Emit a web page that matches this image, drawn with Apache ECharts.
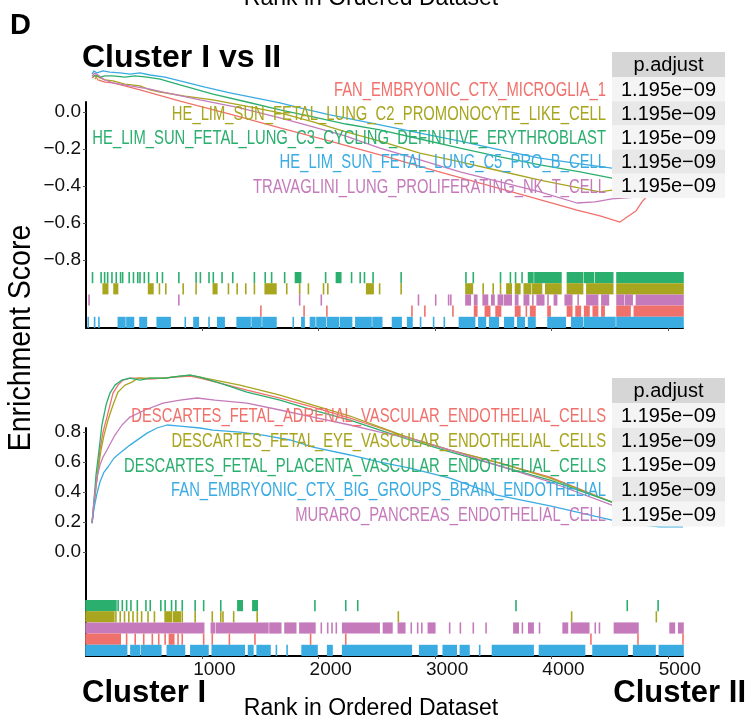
<!DOCTYPE html>
<html><head><meta charset="utf-8">
<script src="https://cdn.jsdelivr.net/npm/echarts@6/dist/echarts.min.js"></script>
<style>html,body{margin:0;padding:0;background:#fff}#c{width:750px;height:726px}</style>
</head><body><div id="c"></div>
<script>
// ---------------- DATA ----------------
const colors = { red:'#F0716C', olive:'#A8A51E', green:'#2BAF6E', blue:'#3AACE2', pink:'#C57BBB' };

const topNames = ['FAN_EMBRYONIC_CTX_MICROGLIA_1','HE_LIM_SUN_FETAL_LUNG_C2_PROMONOCYTE_LIKE_CELL','HE_LIM_SUN_FETAL_LUNG_C3_CYCLING_DEFINITIVE_ERYTHROBLAST','HE_LIM_SUN_FETAL_LUNG_C5_PRO_B_CELL','TRAVAGLINI_LUNG_PROLIFERATING_NK_T_CELL'];
const topKeys = ['red','olive','green','blue','pink'];
const topPadj = ['1.195e\u221209','1.195e\u221209','1.195e\u221209','1.195e\u221209','1.195e\u221209'];

const botNames = ['DESCARTES_FETAL_ADRENAL_VASCULAR_ENDOTHELIAL_CELLS','DESCARTES_FETAL_EYE_VASCULAR_ENDOTHELIAL_CELLS','DESCARTES_FETAL_PLACENTA_VASCULAR_ENDOTHELIAL_CELLS','FAN_EMBRYONIC_CTX_BIG_GROUPS_BRAIN_ENDOTHELIAL','MURARO_PANCREAS_ENDOTHELIAL_CELL'];
const botKeys = ['red','olive','green','blue','pink'];
const botPadj = ['1.195e\u221209','1.195e\u221209','1.195e\u221209','1.195e\u221209','1.195e\u221209'];

const xTicks = [1000,2000,3000,4000,5000];
const topYTicks = [0,-0.2,-0.4,-0.6,-0.8];
const botYTicks = [0.8,0.6,0.4,0.2,0.0];

// running enrichment score, top panel
const topRed = [[52,0.184],[77,0.200],[103,0.173],[163,0.162],[232,0.157],[464,0.119],[808,0.059],[1237,-0.011],[1667,-0.086],[2097,-0.157],[2526,-0.232],[2982,-0.314],[3386,-0.384],[3815,-0.459],[4219,-0.530],[4417,-0.562],[4589,-0.595],[4649,-0.568],[4726,-0.535],[4778,-0.486],[4829,-0.449]];
const topOlive = [[77,0.178],[95,0.195],[120,0.184],[163,0.173],[232,0.168],[335,0.151],[464,0.141],[550,0.119],[636,0.108],[851,0.086],[1091,0.065],[1375,0.032],[1667,-0.005],[1951,-0.054],[2234,-0.108],[2526,-0.157],[2870,-0.222],[3214,-0.270],[3558,-0.319],[3901,-0.368],[4245,-0.411],[4417,-0.432],[4520,-0.422],[4761,-0.432]];
const topGreen = [[60,0.189],[86,0.200],[120,0.189],[163,0.195],[232,0.195],[335,0.189],[421,0.195],[524,0.189],[636,0.178],[808,0.146],[1091,0.097],[1383,0.054],[1667,0.011],[1951,-0.027],[2234,-0.065],[2526,-0.097],[2870,-0.146],[3214,-0.195],[3558,-0.243],[3901,-0.286],[4245,-0.324],[4520,-0.357],[4761,-0.368]];
const topBlue = [[52,0.205],[69,0.222],[95,0.211],[146,0.222],[206,0.216],[292,0.211],[378,0.205],[464,0.211],[550,0.200],[679,0.189],[808,0.168],[1023,0.135],[1237,0.103],[1452,0.076],[1667,0.049],[1882,0.016],[2097,-0.016],[2312,-0.043],[2526,-0.070],[2870,-0.114],[3214,-0.157],[3558,-0.205],[3901,-0.249],[4245,-0.281],[4520,-0.303],[4761,-0.314]];
const topPink = [[52,0.195],[77,0.211],[103,0.200],[163,0.173],[232,0.157],[378,0.141],[550,0.124],[662,0.108],[980,0.065],[1323,0.022],[1667,-0.032],[1951,-0.081],[2234,-0.130],[2526,-0.195],[2870,-0.259],[3214,-0.324],[3558,-0.378],[3901,-0.432],[4219,-0.492],[4374,-0.486],[4520,-0.470],[4761,-0.459]];

// running enrichment score, bottom panel
const botRed = [[52,0.193],[69,0.313],[86,0.433],[103,0.547],[120,0.680],[146,0.800],[180,0.900],[206,0.980],[232,1.060],[275,1.113],[318,1.147],[378,1.160],[464,1.160],[550,1.153],[662,1.160],[765,1.167],[894,1.173],[980,1.160],[1151,1.127],[1383,1.080],[1667,1.027],[1951,0.967],[2269,0.893],[2526,0.827],[2784,0.760],[3128,0.680],[3558,0.593],[3987,0.500],[4520,0.333],[4847,0.293],[5130,0.267]];
const botOlive = [[52,0.193],[77,0.380],[103,0.547],[129,0.680],[155,0.780],[189,0.880],[232,0.980],[275,1.067],[335,1.113],[395,1.133],[447,1.160],[550,1.160],[679,1.160],[808,1.173],[894,1.180],[1023,1.160],[1323,1.113],[1667,1.047],[1951,0.980],[2269,0.907],[2526,0.833],[2784,0.760],[3128,0.680],[3558,0.593],[3987,0.493],[4520,0.333],[4847,0.293],[5130,0.267]];
const botGreen = [[52,0.193],[69,0.347],[86,0.513],[112,0.680],[137,0.847],[172,0.980],[206,1.060],[249,1.113],[309,1.147],[378,1.160],[464,1.147],[550,1.160],[679,1.160],[808,1.173],[894,1.180],[980,1.167],[1151,1.127],[1383,1.067],[1667,1.013],[1951,0.947],[2269,0.880],[2526,0.813],[2784,0.747],[3128,0.667],[3558,0.573],[3987,0.480],[4520,0.333],[4847,0.293],[5130,0.267]];
const botBlue = [[52,0.193],[69,0.293],[95,0.393],[120,0.467],[155,0.533],[189,0.567],[241,0.627],[292,0.660],[378,0.713],[524,0.793],[610,0.827],[696,0.847],[808,0.840],[980,0.827],[1091,0.813],[1323,0.800],[1521,0.780],[1753,0.747],[1951,0.700],[2269,0.647],[2526,0.600],[2784,0.560],[3128,0.493],[3532,0.380],[3987,0.307],[4520,0.213],[4786,0.180],[4932,0.167],[5130,0.167]];
const botPink = [[52,0.193],[69,0.347],[95,0.500],[120,0.580],[146,0.633],[180,0.680],[249,0.780],[309,0.847],[378,0.900],[507,0.947],[662,0.993],[808,1.013],[954,1.027],[1108,1.013],[1383,0.993],[1667,0.947],[1951,0.900],[2269,0.847],[2526,0.800],[2784,0.760],[3128,0.680],[3558,0.573],[3987,0.467],[4520,0.313],[4847,0.267],[5130,0.240]];

// gene hit ranks (single rank or [from, to] run of hits)
const topHitsGreen = [56,130,160,186,223,260,297,315,371,408,445,464,501,538,612,657,798,946,983,1057,1094,1169,1261,1447,1540,1595,1707,[1800,1844],2059,[2152,2189],2282,2356,2393,2467,2708,3265,3328,3562,3647,3691,3747,[3803,3840],[3858,4081],[4137,4267],[4285,4359],[4378,4526],[4563,5130]];
const topHitsOlive = [[148,186],[241,271],[538,575],631,686,835,946,[1094,1124],1224,1299,1373,1447,[1540,1632],1725,1836,1911,2041,2078,[2412,2467],2523,2708,[3265,3320],3413,3499,3562,[3617,3654],[3691,3728],[3766,3821],[3840,3914],[3951,4081],[4137,4267],[4304,4526],[4563,5130]];
const topHitsPink = [26,798,1836,2022,2857,3005,3116,3135,[3265,3302],[3339,3358],[3413,3450],[3487,3506],[3543,3580],[3599,3654],[3691,3710],[3766,3803],3840,[3877,3933],3970,[4025,4044],[4118,4174],4229,[4304,4396],[4433,4489],[4563,4619],[4637,4693],[4730,5130]];
const topHitsRed = [1503,1874,2070,2801,2912,3153,[3339,3358],[3432,3469],[3524,3562],[3691,3728],3784,[3821,3858],[3970,3988],[4137,4174],[4211,4248],[4285,4322],[4359,4396],[4433,4452],[4563,4675],[4712,5130]];
const topHitsBlue = [19,74,111,[278,334],[352,408],[464,519],[612,723],853,[928,965],1057,[1132,1187],[1299,1410],[1428,1503],[1521,1632],1781,[1855,1874],[1929,1966],[1985,2059],[2078,2170],[2189,2282],[2319,2449],[2467,2541],[2634,2708],[2764,2801],2875,2987,3079,[3209,3339],[3376,3432],[3469,3543],[3599,3673],[3710,3766],[3803,3858],[3970,4118],[4174,4267],[4285,4545],[4563,5130]];

const botHitsGreen = [[0,257],276,312,349,386,441,515,552,643,680,735,772,827,938,1011,1158,[1305,1342],[1434,1471],1967,2232,2335,3695,4651,4916];
const botHitsOlive = [[0,239],257,294,331,368,404,441,478,533,588,[680,735],[754,809],827,938,1085,1158,1177,1269,1471,2684,4173,4901];
const botHitsPink = [[0,1011],[1077,1103],[1121,1563],[1581,1673],[1710,1802],[1838,1967],2022,2077,2114,2151,[2206,2519],[2556,2629],[2684,2739],2795,2850,2886,[2942,2997],3125,3217,3328,3438,[3677,3714],3750,[3805,3842],3897,[4100,4137],[4173,4320],4376,4412,[4541,4743],[5019,5056],[5093,5130]];
const botHitsRed = [[0,294],349,423,496,570,625,680,[717,754],791,827,1011,1085,1232,1452,1930,2232,4339,4743,5130];
const botHitsBlue = [[0,349],[386,460],[478,643],[699,846],[901,1048],[1085,1360],[1397,1434],[1471,1581],1636,1728,[1857,1985],[2077,2114],[2206,2795],[2868,3015],[3070,3181],[3217,3291],3383,[3493,3842],[3897,4284],[4357,4651],[4706,4890],[4927,5130]];

const rankMax = 5130;

// ---------------- CHART ----------------
const FF = "'Liberation Sans', Arial, Helvetica, sans-serif";
const chart = echarts.init(document.getElementById('c'), null, {renderer:'canvas'});

const L = 86, R = 67;
const grids = [
  {left:L, right:R, top:102, height:170},
  {left:L, right:R, top:272, height:56},
  {left:L, right:R, top:428, height:172},
  {left:L, right:R, top:600, height:56}
];
const fmtNum = v => (Math.abs(v) < 1e-9 ? 0 : v).toFixed(1).replace('-', '\u2212');

function xAx(i, show, labels){
  return {type:'value', gridIndex:i, min:0, max:rankMax, show:show,
    axisLine:{show:true, onZero:false, lineStyle:{color:'#000', width:2}},
    axisTick:{show:true, length:3, customValues:xTicks, lineStyle:{color:'#555', width:1}},
    axisLabel:{show:labels, customValues:xTicks, fontSize:19, fontFamily:FF, color:'#111', margin:4,
      padding:[0,0,0,24], formatter: v => String(v)},
    splitLine:{show:false}};
}
function yAxCurve(i, min, max, ticks){
  return {type:'value', gridIndex:i, min:min, max:max,
    axisLine:{show:true, onZero:false, lineStyle:{color:'#000', width:2}},
    axisTick:{show:true, length:3, customValues:ticks, lineStyle:{color:'#555'}},
    axisLabel:{customValues:ticks, fontSize:19, fontFamily:FF, color:'#111', margin:5, formatter: fmtNum},
    splitLine:{show:false}};
}
function yAxRug(i){
  return {type:'value', gridIndex:i, min:0, max:5,
    axisLine:{show:true, onZero:false, lineStyle:{color:'#000', width:2}},
    axisTick:{show:false}, axisLabel:{show:false}, splitLine:{show:false}};
}

function lineSeries(data, key, idx){
  return {type:'line', xAxisIndex:idx, yAxisIndex:idx, data:data, showSymbol:false, clip:false,
    lineStyle:{color:colors[key], width:1.3}, itemStyle:{color:colors[key]}, z:3, silent:true};
}
function rugSeries(hits, key, row, idx){
  const data = hits.map(h => Array.isArray(h) ? [h[0], h[1], row] : [h, h, row]);
  return {type:'custom', xAxisIndex:idx, yAxisIndex:idx, data:data, silent:true, z:3,
    renderItem:(params, api) => {
      const a = api.coord([api.value(0), api.value(2) + 1]);
      const b = api.coord([api.value(1), api.value(2)]);
      return {type:'rect', shape:{x:a[0]-0.8, y:a[1], width:(b[0]-a[0])+1.6, height:b[1]-a[1]},
        style:{fill:colors[key]}};
    }};
}
const rowOf = {green:4, olive:3, pink:2, red:1, blue:0};

const series = [
  lineSeries(topRed,'red',0), lineSeries(topOlive,'olive',0), lineSeries(topGreen,'green',0),
  lineSeries(topBlue,'blue',0), lineSeries(topPink,'pink',0),
  rugSeries(topHitsGreen,'green',rowOf.green,1), rugSeries(topHitsOlive,'olive',rowOf.olive,1),
  rugSeries(topHitsPink,'pink',rowOf.pink,1), rugSeries(topHitsRed,'red',rowOf.red,1),
  rugSeries(topHitsBlue,'blue',rowOf.blue,1),
  lineSeries(botRed,'red',2), lineSeries(botOlive,'olive',2), lineSeries(botGreen,'green',2),
  lineSeries(botBlue,'blue',2), lineSeries(botPink,'pink',2),
  rugSeries(botHitsGreen,'green',rowOf.green,3), rugSeries(botHitsOlive,'olive',rowOf.olive,3),
  rugSeries(botHitsPink,'pink',rowOf.pink,3), rugSeries(botHitsRed,'red',rowOf.red,3),
  rugSeries(botHitsBlue,'blue',rowOf.blue,3)
];

function txt(x, y, text, o){
  o = o || {};
  return {type:'text', x:x, y:y, z:20, rotation:o.rot||0, scaleX:o.sx||1,
    style:{text:text, fill:o.color||'#000', fontSize:o.size||20, fontFamily:FF, fontWeight:o.bold?'bold':'normal',
      align:o.align||'left', textAlign:o.align||'left', verticalAlign:o.va||'middle', textVerticalAlign:o.va||'middle'}};
}
function table(names, keys, padj, top, headerH, rowH){
  const els = [];
  const tx = 612, tw = 113, labelRight = 606;
  els.push({type:'rect', z:15, shape:{x:tx, y:top, width:tw, height:headerH}, style:{fill:'#d6d6d6'}});
  els.push(txt(tx + tw/2, top + headerH/2 + 1, 'p.adjust', {size:20, align:'center'}));
  names.forEach((n, i) => {
    const y0 = top + headerH + i*rowH;
    els.push({type:'rect', z:15, shape:{x:tx, y:y0, width:tw, height:rowH}, style:{fill: i%2 ? '#e8e8e8' : '#f4f4f4'}});
    els.push(txt(tx + tw/2, y0 + rowH/2 + 1, padj[i], {size:20, align:'center'}));
    els.push(txt(labelRight, y0 + rowH/2 + 1, n, {size:21, align:'right', color:colors[keys[i]], sx:0.705}));
  });
  return els;
}

const graphics = [].concat(
  [txt(371, 10, 'Rank in Ordered Dataset', {size:23, align:'center', va:'bottom'})],
  [txt(10, 26, 'D', {size:29, bold:true})],
  [txt(82, 58, 'Cluster I vs II', {size:32, bold:true})],
  [txt(21, 338, 'Enrichment Score', {size:31, align:'center', rot:Math.PI/2, sx:0.92})],
  [txt(82, 693, 'Cluster I', {size:31, bold:true})],
  [txt(746, 693, 'Cluster II', {size:31, bold:true, align:'right'})],
  [txt(371, 709, 'Rank in Ordered Dataset', {size:23, align:'center'})],
  table(topNames, topKeys, topPadj, 52, 25, 24.2),
  table(botNames, botKeys, botPadj, 378, 25, 24.7)
);

chart.setOption({
  animation:false,
  backgroundColor:'#fff',
  grid:grids,
  xAxis:[xAx(0,false,false), xAx(1,true,false), xAx(2,false,false), xAx(3,true,true)],
  yAxis:[yAxCurve(0,-0.865,0.054,topYTicks), yAxRug(1), yAxCurve(2,-0.32,0.827,botYTicks), yAxRug(3)],
  series:series,
  graphic:{elements:graphics}
});
</script></body></html>
